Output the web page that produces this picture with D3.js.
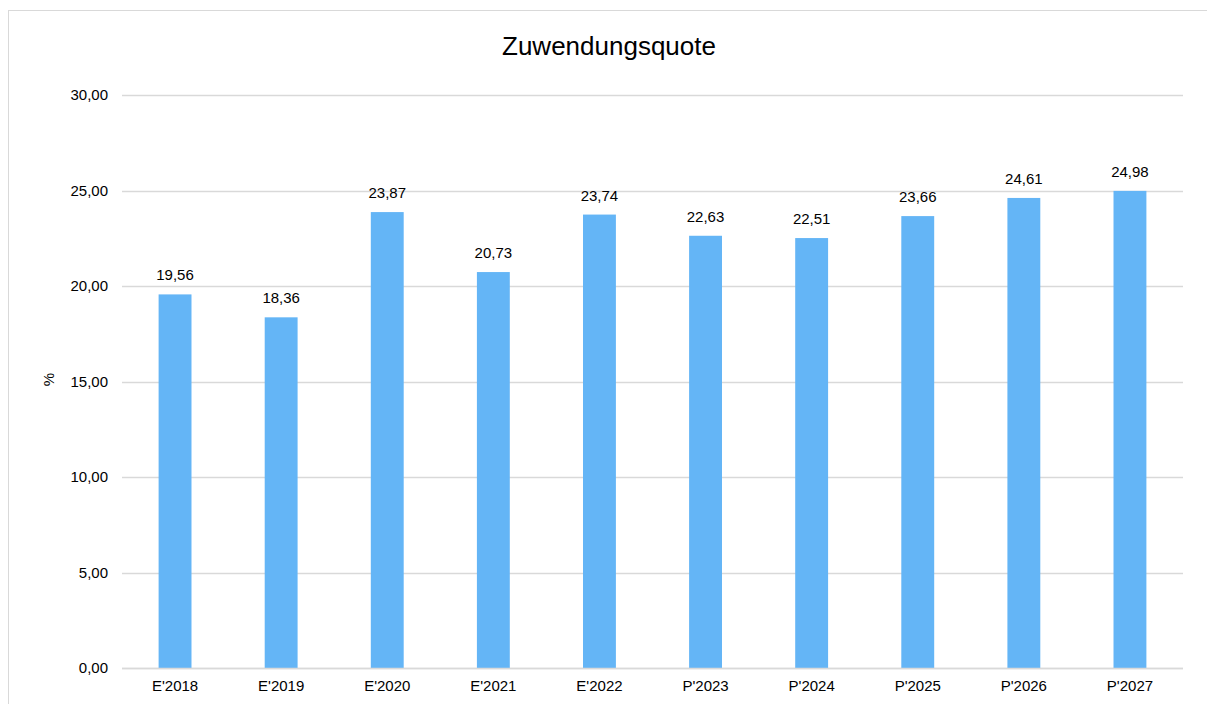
<!DOCTYPE html>
<html>
<head>
<meta charset="utf-8">
<script src="https://cdn.jsdelivr.net/npm/d3@7"></script>
<style>
  body { margin: 0; background: #fff; }
  text { font-family: "Liberation Sans", Arial, sans-serif; fill: #000; }
</style>
</head>
<body>
<script>
//data
var categories = ["E'2018", "E'2019", "E'2020", "E'2021", "E'2022", "P'2023", "P'2024", "P'2025", "P'2026", "P'2027"];
var values = [19.56, 18.36, 23.87, 20.73, 23.74, 22.63, 22.51, 23.66, 24.61, 24.98];
var yTicks = [0, 5, 10, 15, 20, 25, 30];
var title = "Zuwendungsquote";
var yLabel = "%";

var width = 1207;
var height = 704;
var plot = {left: 122, right: 1183, top: 95, bottom: 668};
var fontSize = 15;

var svg = d3.select("body").append("svg")
    .attr("width", width)
    .attr("height", height);

//chart border
svg.append("rect")
    .attr("x", 8.5).attr("y", 10.5)
    .attr("width", 1220).attr("height", 720)
    .style("fill", "none")
    .style("stroke", "#d9d9d9");

var fmt = function(v){ return v.toFixed(2).replace(".", ","); };

var x = d3.scaleBand()
    .domain(categories)
    .range([plot.left, plot.right])
    .paddingInner(0.69)
    .paddingOuter(0.345);

var y = d3.scaleLinear()
    .domain([0, 30])
    .range([plot.bottom, plot.top]);

//gridlines
svg.append("g")
    .selectAll("line")
    .data(yTicks)
    .enter()
    .append("line")
    .attr("x1", plot.left).attr("x2", plot.right)
    .attr("y1", function(d){ return Math.round(y(d)) + 0.5; })
    .attr("y2", function(d){ return Math.round(y(d)) + 0.5; })
    .style("stroke", "#d9d9d9")
    .style("stroke-width", 1.5);

//y axis labels
var yAxis = d3.axisLeft(y).tickValues(yTicks).tickFormat(fmt).tickSize(0).tickPadding(14);
svg.append("g")
    .attr("transform", "translate(" + plot.left + ",0)")
    .call(yAxis)
    .call(function(g){ g.select(".domain").remove(); })
    .selectAll("text")
    .style("font-size", fontSize + "px")
    .style("font-family", "Liberation Sans, Arial, sans-serif");

//bars
svg.append("g")
    .selectAll("rect")
    .data(values)
    .enter()
    .append("rect")
    .attr("x", function(d, i){ return x(categories[i]); })
    .attr("width", x.bandwidth())
    .attr("y", function(d){ return y(d); })
    .attr("height", function(d){ return y(0) - y(d); })
    .style("fill", "#64b5f6");

//baseline over bars
svg.append("line")
    .attr("x1", plot.left).attr("x2", plot.right)
    .attr("y1", Math.round(y(0)) + 0.5).attr("y2", Math.round(y(0)) + 0.5)
    .style("stroke", "#d9d9d9")
    .style("stroke-width", 1.5);

//value labels
svg.append("g")
    .selectAll("text")
    .data(values)
    .enter()
    .append("text")
    .attr("x", function(d, i){ return x(categories[i]) + x.bandwidth() / 2; })
    .attr("y", function(d){ return y(d) - 14; })
    .attr("text-anchor", "middle")
    .style("font-size", fontSize + "px")
    .text(fmt);

//x axis labels
var xAxis = d3.axisBottom(x).tickSize(0).tickPadding(12);
svg.append("g")
    .attr("transform", "translate(0," + plot.bottom + ")")
    .call(xAxis)
    .call(function(g){ g.select(".domain").remove(); })
    .selectAll("text")
    .style("font-size", fontSize + "px")
    .style("font-family", "Liberation Sans, Arial, sans-serif");

//title
svg.append("text")
    .attr("x", 609)
    .attr("y", 55)
    .attr("text-anchor", "middle")
    .style("font-size", "26px")
    .text(title);

//y axis title
svg.append("text")
    .attr("transform", "translate(54," + ((plot.top + plot.bottom) / 2 - 2) + ") rotate(-90)")
    .attr("text-anchor", "middle")
    .style("font-size", fontSize + "px")
    .text(yLabel);
</script>
</body>
</html>
